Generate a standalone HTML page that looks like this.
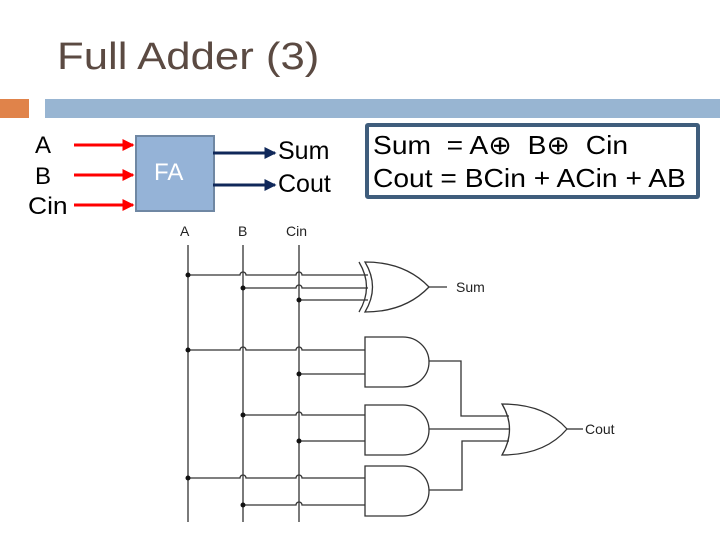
<!DOCTYPE html>
<html><head><style>
body{margin:0;width:720px;height:540px;background:#fff;overflow:hidden;position:relative;font-family:"Liberation Sans",sans-serif}
.t{position:absolute;white-space:nowrap;transform-origin:0 0}
</style></head><body>
<div class="t" style="left:57px;top:36px;font-size:38px;color:#5b4a42;transform:scaleX(1.15)">Full Adder (3)</div>
<div style="position:absolute;left:0;top:99px;width:29px;height:19px;background:#e0834a"></div>
<div style="position:absolute;left:45px;top:99px;width:675px;height:19px;background:#98b5d2"></div>
<div class="t" style="left:35px;top:132px;font-size:24px">A</div>
<div class="t" style="left:35px;top:163px;font-size:24px">B</div>
<div class="t" style="left:28px;top:193px;font-size:24px;transform:scaleX(1.1)">Cin</div>
<div style="position:absolute;left:135px;top:135px;width:76px;height:73px;background:#95b3d7;border:2px solid #6f87a3"></div>
<div class="t" style="left:154px;top:159px;font-size:24px;color:#fff">FA</div>
<div class="t" style="left:278px;top:137px;font-size:25px">Sum</div>
<div class="t" style="left:278px;top:170px;font-size:25px">Cout</div>
<div style="position:absolute;left:365px;top:123px;width:327px;height:68px;border:4px solid #3f5d7c;border-radius:3px"></div>
<div class="t" style="left:373px;top:130px;font-size:26px;transform:scaleX(1.085)">Sum&nbsp; = A⊕&nbsp; B⊕&nbsp; Cin</div>
<div class="t" style="left:373px;top:163px;font-size:26px;transform:scaleX(1.085)">Cout = BCin + ACin + AB</div>
<svg width="720" height="540" style="position:absolute;left:0;top:0">
<defs>
<marker id="r" markerWidth="4" markerHeight="4" refX="3.5" refY="2" orient="auto"><path d="M0,0L4,2L0,4z" fill="#f00"/></marker>
<marker id="b" markerWidth="4" markerHeight="4" refX="3.5" refY="2" orient="auto"><path d="M0,0L4,2L0,4z" fill="#10285a"/></marker>
</defs>
<g stroke="#f00" stroke-width="3" marker-end="url(#r)">
<line x1="74" y1="145" x2="133" y2="145"/><line x1="74" y1="175" x2="133" y2="175"/><line x1="74" y1="205" x2="133" y2="205"/></g>
<g stroke="#10285a" stroke-width="3" marker-end="url(#b)">
<line x1="213" y1="153" x2="275" y2="153"/><line x1="213" y1="185" x2="275" y2="185"/></g>
<g font-family="Liberation Sans" font-size="14" fill="#222">
<text x="180" y="236">A</text><text x="238" y="236">B</text><text x="286" y="236">Cin</text>
<text x="456" y="292">Sum</text><text x="585" y="434">Cout</text></g>
<g stroke="#333" stroke-width="1.3" fill="none">
<line x1="188" y1="245" x2="188" y2="522"/><line x1="243" y1="245" x2="243" y2="522"/><line x1="299" y1="245" x2="299" y2="522"/>
<path d="M188,275H240a3,3 0 0 1 6,0H296a3,3 0 0 1 6,0H368"/>
<path d="M243,288H296a3,3 0 0 1 6,0H368"/>
<path d="M299,300H368"/>
<path d="M188,350H240a3,3 0 0 1 6,0H296a3,3 0 0 1 6,0H365"/>
<path d="M299,374H365"/>
<path d="M243,415H296a3,3 0 0 1 6,0H365"/>
<path d="M299,441H365"/>
<path d="M188,478H240a3,3 0 0 1 6,0H296a3,3 0 0 1 6,0H365"/>
<path d="M243,505H296a3,3 0 0 1 6,0H365"/>
<path d="M365,262Q380,287 365,312Q405,312 429,287Q405,262 365,262Z"/>
<path d="M359,262Q374,287 359,312"/>
<line x1="429" y1="287" x2="447" y2="287"/>
<path d="M365,337H403A26,25 0 0 1 403,387H365Z"/>
<path d="M365,405H403A26,25 0 0 1 403,455H365Z"/>
<path d="M365,466H403A26,25 0 0 1 403,516H365Z"/>
<path d="M502,404Q517,429 502,455Q545,455 567,429Q545,404 502,404Z"/>
<line x1="567" y1="429" x2="583" y2="429"/>
<path d="M429,361H461V416H509"/>
<path d="M429,429H510"/>
<path d="M429,490H462V441H509"/>
</g>
<g fill="#111">
<circle cx="188" cy="275" r="2.5"/><circle cx="243" cy="288" r="2.5"/><circle cx="299" cy="300" r="2.5"/>
<circle cx="188" cy="350" r="2.5"/><circle cx="299" cy="374" r="2.5"/>
<circle cx="243" cy="415" r="2.5"/><circle cx="299" cy="441" r="2.5"/>
<circle cx="188" cy="478" r="2.5"/><circle cx="243" cy="505" r="2.5"/>
</g>
</svg>
</body></html>
